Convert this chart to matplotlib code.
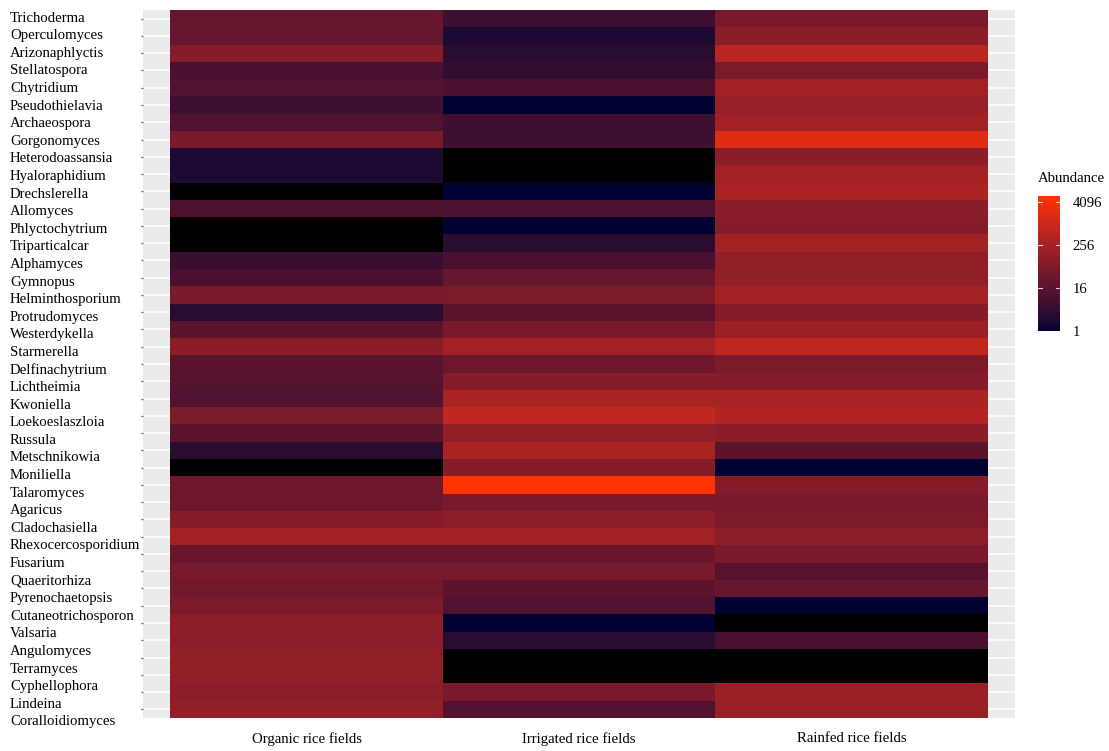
import numpy as np
import matplotlib
matplotlib.use("Agg")
import matplotlib.pyplot as plt
from matplotlib.colors import ListedColormap, LogNorm, to_rgb
from matplotlib.colorbar import ColorbarBase
from matplotlib.transforms import ScaledTranslation, blended_transform_factory

plt.rcParams["font.family"] = ["Liberation Serif", "DejaVu Serif"]

genera = [
    "Trichoderma", "Operculomyces", "Arizonaphlyctis", "Stellatospora", "Chytridium",
    "Pseudothielavia", "Archaeospora", "Gorgonomyces", "Heterodoassansia", "Hyaloraphidium",
    "Drechslerella", "Allomyces", "Phlyctochytrium", "Triparticalcar", "Alphamyces",
    "Gymnopus", "Helminthosporium", "Protrudomyces", "Westerdykella", "Starmerella",
    "Delfinachytrium", "Lichtheimia", "Kwoniella", "Loekoeslaszloia", "Russula",
    "Metschnikowia", "Moniliella", "Talaromyces", "Agaricus", "Cladochasiella",
    "Rhexocercosporidium", "Fusarium", "Quaeritorhiza", "Pyrenochaetopsis",
    "Cutaneotrichosporon", "Valsaria", "Angulomyces", "Terramyces", "Cyphellophora",
    "Lindeina", "Coralloidiomyces",
]

habitats = ["Organic rice fields", "Irrigated rice fields", "Rainfed rice fields"]

organic = [27, 27, 85, 9, 12, 6, 12, 55, 2, 2, 0, 10, 0, 0, 5, 9, 55, 3, 18, 100,
           16, 14, 11, 60, 18, 3, 0, 35, 35, 85, 230, 29, 50, 42, 60, 110, 110, 130,
           130, 110, 130]
irrigated = [6, 2, 3, 4, 9, 1, 6, 6, 0, 0, 1, 10, 1, 3, 9, 27, 60, 18, 55, 230,
             35, 85, 310, 680, 130, 310, 85, 6000, 55, 110, 230, 29, 50, 18, 12, 1,
             3, 0, 0, 55, 12]
rainfed = [55, 100, 525, 60, 230, 155, 230, 2000, 100, 230, 310, 100, 85, 230, 130,
           130, 230, 85, 185, 630, 60, 85, 310, 400, 100, 18, 1, 78, 55, 60, 110, 55,
           15, 27, 1, 0, 9, 0, 0, 185, 185]

legend_ticks = [1, 16, 256, 4096]


# --- gradient interpolated in CIE Lab space ---------------------------------
def _srgb_to_lab(rgb):
    c = np.asarray(rgb, dtype=float)
    lin = np.where(c <= 0.04045, c / 12.92, ((c + 0.055) / 1.055) ** 2.4)
    m = np.array([[0.4124, 0.3576, 0.1805],
                  [0.2126, 0.7152, 0.0722],
                  [0.0193, 0.1192, 0.9505]])
    xyz = m @ lin / np.array([0.95047, 1.0, 1.08883])
    f = np.where(xyz > (6 / 29) ** 3, np.cbrt(xyz), xyz / (3 * (6 / 29) ** 2) + 4 / 29)
    return np.array([116 * f[1] - 16, 500 * (f[0] - f[1]), 200 * (f[1] - f[2])])


def _lab_to_srgb(lab):
    L, a, b = lab
    fy = (L + 16) / 116
    fx = fy + a / 500
    fz = fy - b / 200
    f = np.array([fx, fy, fz])
    xyz = np.where(f > 6 / 29, f ** 3, 3 * (6 / 29) ** 2 * (f - 4 / 29))
    xyz = xyz * np.array([0.95047, 1.0, 1.08883])
    m = np.array([[3.2406, -1.5372, -0.4986],
                  [-0.9689, 1.8758, 0.0415],
                  [0.0557, -0.2040, 1.0570]])
    lin = np.clip(m @ xyz, 0, 1)
    c = np.where(lin <= 0.0031308, 12.92 * lin,
                 1.055 * lin ** (1 / 2.4) - 0.055)
    return np.clip(c, 0, 1)


def lab_gradient(low, high, n=256):
    a = _srgb_to_lab(to_rgb(low))
    b = _srgb_to_lab(to_rgb(high))
    cols = [_lab_to_srgb(a + (b - a) * t) for t in np.linspace(0, 1, n)]
    return ListedColormap(cols)


cmap = lab_gradient("#000033", "#FF3300")
cmap.set_bad("black")

values = np.array([organic, irrigated, rainfed], dtype=float).T
masked = np.ma.masked_less_equal(values, 0)
positive = values[values > 0]
norm = LogNorm(vmin=positive.min(), vmax=positive.max())

# --- figure ------------------------------------------------------------------
W, H = 1109, 751
fig = plt.figure(figsize=(W / 100, H / 100), dpi=100)
ax = fig.add_axes([143 / W, 1 - 718 / H, (1015 - 143) / W, (718 - 10) / H])
ax.set_facecolor("#EBEBEB")

n_rows = len(genera)
rows = np.arange(1, n_rows + 1)
x_edges = np.arange(len(habitats) + 1) + 0.5
y_edges = np.arange(n_rows + 1) + 0.5
ax.pcolormesh(x_edges, y_edges, masked, cmap=cmap, norm=norm,
              edgecolors="none", antialiased=False, zorder=2)

ax.set_xlim(0.4, len(habitats) + 0.6)
ax.set_ylim(n_rows + 0.5, 0.5)

label_size = 10.6
ax.set_yticks(rows)
ax.set_yticklabels([])
ax.set_xticks(np.arange(1, len(habitats) + 1))
ax.set_xticklabels(habitats, fontsize=label_size, color="black")

# genus names: left-aligned column, on a slightly looser line spacing than the rows
name_tf = blended_transform_factory(fig.transFigure, ax.transData)
for i, (name, r) in enumerate(zip(genera, rows)):
    dy = (0.5 - 0.325 * i) / 100
    ax.text(10 / W, r, name, ha="left", va="center", fontsize=label_size,
            color="black", clip_on=False,
            transform=name_tf + ScaledTranslation(0, dy, fig.dpi_scale_trans))

ax.grid(axis="y", color="white", linewidth=1.1, zorder=1)
ax.grid(axis="x", visible=False)
ax.set_axisbelow(True)
for s in ax.spines.values():
    s.set_visible(False)

ax.tick_params(axis="y", length=1.6, width=1.0, color="#666666")
ax.tick_params(axis="x", length=0, pad=10)

# --- legend ------------------------------------------------------------------
cax = fig.add_axes([1038 / W, 1 - 331 / H, 22 / W, 135 / H])
cb = ColorbarBase(cax, cmap=cmap, norm=norm, orientation="vertical")
cb.outline.set_visible(False)
cb.set_ticks(legend_ticks)
cb.set_ticklabels([str(t) for t in legend_ticks])
cb.minorticks_off()
cax.tick_params(length=0, pad=9, labelsize=label_size)
for t in legend_ticks:
    cax.axhline(t, xmin=0, xmax=0.2, color="white", linewidth=0.8, alpha=0.8)
    cax.axhline(t, xmin=0.8, xmax=1, color="white", linewidth=0.8, alpha=0.8)
fig.text(1038 / W, 1 - 179 / H, "Abundance", ha="left", va="center", fontsize=label_size)

fig.savefig("out.png", dpi=100)
